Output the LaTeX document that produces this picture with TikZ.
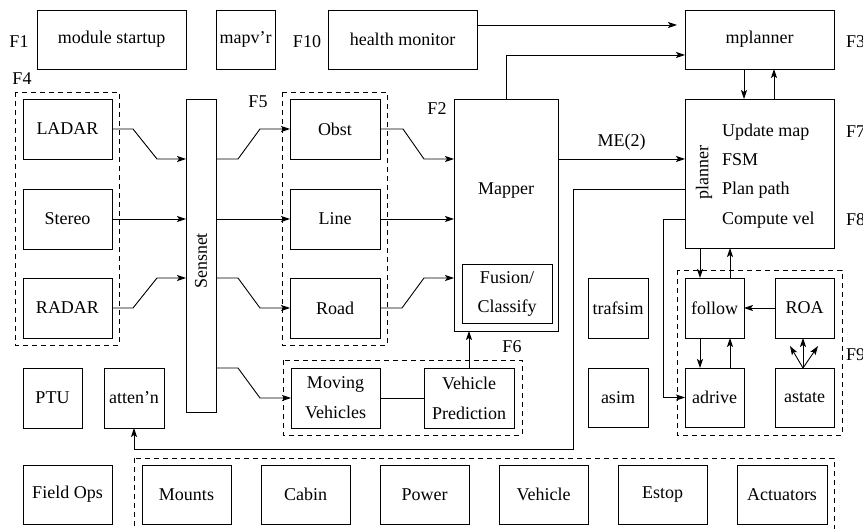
\documentclass[tikz,border=0pt]{standalone}
\usepackage{fontspec}
\setmainfont{Liberation Serif}
\usetikzlibrary{arrows.meta}
\begin{document}
\begin{tikzpicture}[x=1pt,y=-1pt,
  font=\fontsize{18}{20}\selectfont,
  every node/.style={inner sep=0pt,outer sep=0pt},
  box/.style={draw,line width=0.9pt,rectangle,align=center},
  dbox/.style={draw,line width=0.9pt,dash pattern=on 5pt off 4pt},
  conn/.style={line width=0.9pt},
  arr/.style={line width=0.9pt,-{Stealth[length=9pt,width=6pt,inset=2pt]}}]
\useasboundingbox (0,0) rectangle (863,529);
% dashed groups
\draw[dbox] (15,92) rectangle (119,345);
\draw[dbox] (282,92) rectangle (387,345);
\draw[dbox] (283,360) rectangle (522,435);
\draw[dbox] (677,270) rectangle (842,435);
\draw[dbox] (134,458) rectangle (834,540);
% top row
\node[box,minimum width=149pt,minimum height=59pt] (startup) at (111.5,39.5) {module startup};
\node[box,minimum width=59pt,minimum height=59pt] (mapvr) at (245.5,39.5) {mapv'r};
\node[box,minimum width=149pt,minimum height=59pt] (health) at (402.5,39.5) {health monitor};
\node[box,minimum width=149pt,minimum height=59pt] (mplanner) at (759.5,39.5) {mplanner};
% sensors
\node[box,minimum width=89pt,minimum height=60pt] (ladar) at (67.5,129) {LADAR};
\node[box,minimum width=89pt,minimum height=60pt] (stereo) at (67.5,219) {Stereo};
\node[box,minimum width=89pt,minimum height=60pt] (radar) at (67.5,308) {RADAR};
\node[box,minimum width=30pt,minimum height=313pt] (sensnet) at (201,255.5) {};
\node[rotate=90] (sensnetlbl) at (201,261) {Sensnet};
% F5
\node[box,minimum width=90pt,minimum height=60pt] (obst) at (335,129) {Obst};
\node[box,minimum width=90pt,minimum height=60pt] (line) at (335,219) {Line};
\node[box,minimum width=90pt,minimum height=60pt] (road) at (335,308) {Road};
% mapper
\node[box,minimum width=104pt,minimum height=232pt] (mapper) at (506,215) {};
\node (mapperlbl) at (506,191) {Mapper};
\node[box,minimum width=90pt,minimum height=59pt,align=center] (fusion) at (507,293.5) {Fusion/\\[9pt]Classify};
% planner
\node[box,minimum width=149pt,minimum height=149pt] (planner) at (759.5,173.5) {};
\node[rotate=90] (plannerlbl) at (704,173) {planner};
\node[anchor=base west] (t1) at (722,137) {Update map};
\node[anchor=base west] (t2) at (722,166) {FSM};
\node[anchor=base west] (t3) at (722,195) {Plan path};
\node[anchor=base west] (t4) at (722,225) {Compute vel};
% F9
\node[box,minimum width=59pt,minimum height=60pt] (follow) at (714.5,308) {follow};
\node[box,minimum width=59pt,minimum height=60pt] (roa) at (804.5,308) {ROA};
\node[box,minimum width=59pt,minimum height=59pt] (adrive) at (714.5,397.5) {adrive};
\node[box,minimum width=59pt,minimum height=59pt] (astate) at (804.5,397.5) {astate};
% sims
\node[box,minimum width=60pt,minimum height=60pt] (trafsim) at (618,308) {trafsim};
\node[box,minimum width=60pt,minimum height=59pt] (asim) at (618,397.5) {asim};
% F6
\node[box,minimum width=89pt,minimum height=60pt] (mv) at (335.5,398) {Moving\\[10pt]Vehicles};
\node[box,minimum width=90pt,minimum height=60pt] (vp) at (469,398) {Vehicle\\[10pt]Prediction};
% left lower
\node[box,minimum width=59pt,minimum height=60pt] (ptu) at (52.5,398) {PTU};
\node[box,minimum width=60pt,minimum height=60pt] (atten) at (134,398) {atten'n};
\node[box,minimum width=89pt,minimum height=59pt] (fieldops) at (67.5,494.5) {Field Ops};
% bottom row
\node[box,minimum width=89pt,minimum height=59pt] (mounts) at (186.5,494.5) {Mounts};
\node[box,minimum width=89pt,minimum height=59pt] (cabin) at (305.5,494.5) {Cabin};
\node[box,minimum width=89pt,minimum height=59pt] (power) at (424.5,494.5) {Power};
\node[box,minimum width=89pt,minimum height=59pt] (vehicle) at (543.5,494.5) {Vehicle};
\node[box,minimum width=89pt,minimum height=59pt] (estop) at (662.5,494.5) {Estop};
\node[box,minimum width=90pt,minimum height=59pt] (actuators) at (782,494.5) {Actuators};
% F labels
\node (f1) at (19,42) {F1};
\node (f10) at (307,42) {F10};
\node (f4) at (22,79) {F4};
\node (f5) at (258,102) {F5};
\node (f2) at (437,109) {F2};
\node (f6) at (512,347) {F6};
\node[anchor=west] (f3) at (846,42) {F3};
\node[anchor=west] (f7) at (846,132) {F7};
\node[anchor=west] (f8) at (846,220) {F8};
\node[anchor=west] (f9) at (846,355) {F9};
% connectors: sensors -> sensnet
\draw[arr] (ladar.east) -- ++(21,0) -- ++(24,30) -- (sensnet.west |- 0,159);
\draw[arr] (stereo.east) -- (stereo.east -| sensnet.west);
\draw[arr] (radar.east) -- ++(21,0) -- ++(24,-30) -- (sensnet.west |- 0,278);
% sensnet -> F5 / F6
\draw[arr] (sensnet.east |- 0,159) -- ++(22,0) -- ++(22,-30) -- (obst.west);
\draw[arr] (sensnet.east |- line.west) -- (line.west);
\draw[arr] (sensnet.east |- 0,278) -- ++(22,0) -- ++(22,30) -- (road.west);
\draw[arr] (sensnet.east |- 0,368) -- ++(22,0) -- ++(22,30) -- (mv.west);
% F5 -> mapper
\draw[arr] (obst.east) -- ++(23,0) -- ++(21,30) -- (mapper.west |- 0,159);
\draw[arr] (line.east) -- (line.east -| mapper.west);
\draw[arr] (road.east) -- ++(22,0) -- ++(22,-30) -- (mapper.west |- 0,278);
% F6
\draw[conn] (mv.east) -- (vp.west);
\draw[arr] (vp.north) -- (vp.north |- mapper.south);
% mapper -> mplanner, health
\draw[arr] (mapper.north) |- (mplanner.west |- 0,55);
\coordinate (hmend) at (677,25);
\draw[arr] (health.east |- 0,25) -- (hmend);
% mapper -> planner
\draw[arr] (mapper.east |- 0,159) -- (planner.west |- 0,159) node[pos=0.5,above=9pt] (me) {ME(2)};
% mplanner <-> planner
\draw[arr] (mplanner.south -| 744,0) -- (planner.north -| 744,0);
\draw[arr] (planner.north -| 774,0) -- (mplanner.south -| 774,0);
% planner -> atten'n
\draw[arr] (planner.west |- 0,189) -- (573,189) -- (573,449) -- (atten.south |- 0,449) -- (atten.south);
% planner -> adrive
\draw[arr] (planner.west |- 0,219) -- (663,219) -- (663,397.5) -- (adrive.west);
% planner <-> follow
\draw[arr] (planner.south -| 700,0) -- (follow.north -| 700,0);
\draw[arr] (follow.north -| 730,0) -- (planner.south -| 730,0);
% ROA -> follow
\draw[arr] (roa.west) -- (follow.east);
% follow <-> adrive
\draw[arr] (follow.south -| 700,0) -- (adrive.north -| 700,0);
\draw[arr] (adrive.north -| 730,0) -- (follow.south -| 730,0);
% astate -> ROA fan
\coordinate (fanl) at (790,346);
\coordinate (fanr) at (818,346);
\draw[arr] (astate.north -| 803,0) -- (roa.south -| 803,0);
\draw[arr] (astate.north -| 803,0) -- (fanl);
\draw[arr] (astate.north -| 803,0) -- (fanr);
\end{tikzpicture}
\end{document}
